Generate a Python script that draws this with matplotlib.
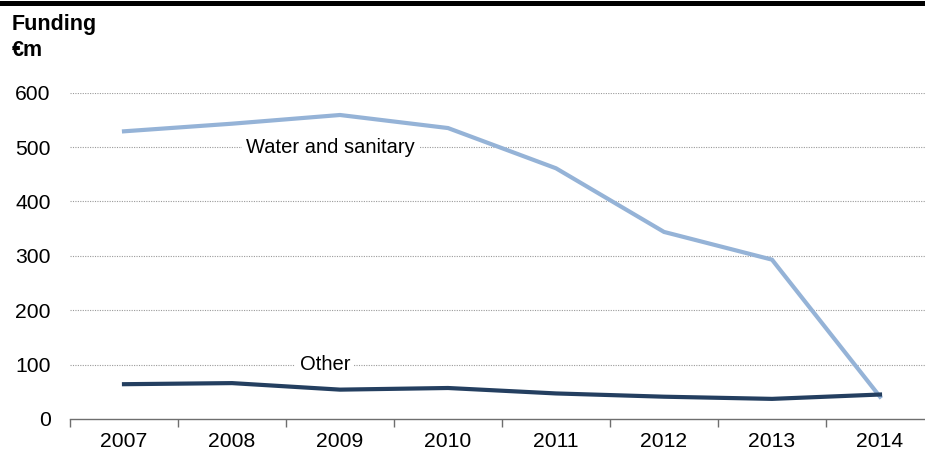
import matplotlib
matplotlib.use("Agg")
import matplotlib.pyplot as plt
from matplotlib.ticker import FixedLocator, NullFormatter
from matplotlib.lines import Line2D

plt.rcParams['font.family'] = ['Liberation Sans', 'DejaVu Sans']

years = ["2007", "2008", "2009", "2010", "2011", "2012", "2013", "2014"]
water_sanitary = [529, 543, 559, 535, 461, 344, 293, 41]
other = [64, 66, 54, 57, 47, 41, 37, 45]
y_ticks = [0, 100, 200, 300, 400, 500, 600]

WATER_COLOR = "#95B3D7"
OTHER_COLOR = "#243F60"
FS = 14.5
TICK_FS = 15.2
TITLE_FS = 15.5

fig = plt.figure(figsize=(9.25, 4.54), dpi=100)
ax = fig.add_axes([70 / 925, 1 - 419 / 454, 864 / 925, (419 - 92.7) / 454])

x = list(range(len(years)))
ax.plot(x, water_sanitary, color=WATER_COLOR, lw=3.0, solid_joinstyle="miter", zorder=3)
ax.plot(x, other, color=OTHER_COLOR, lw=3.0, solid_joinstyle="miter", zorder=4)

ax.set_xlim(-0.5, len(years) - 0.5)
ax.set_ylim(0, 600)

# dotted horizontal gridlines
ax.set_yticks(y_ticks)
for v in y_ticks[1:]:
    ax.axhline(v, color="#9a9a9a", lw=0.8, ls=(0, (1, 1.2)), zorder=1)
ax.tick_params(axis="y", length=0, pad=14, labelsize=TICK_FS, labelcolor="black")

# category ticks on boundaries, labels centred on each year
ax.xaxis.set_major_locator(FixedLocator([i - 0.5 for i in range(len(years) + 1)]))
ax.xaxis.set_major_formatter(NullFormatter())
ax.xaxis.set_minor_locator(FixedLocator(x))
ax.set_xticklabels(years, minor=True)
ax.tick_params(axis="x", which="major", length=6, width=1, color="#6e6e6e", direction="out")
ax.tick_params(axis="x", which="minor", length=0, pad=9.5, labelsize=TICK_FS)

for side in ("left", "right", "top"):
    ax.spines[side].set_visible(False)
ax.spines["bottom"].set_color("#6e6e6e")
ax.spines["bottom"].set_linewidth(1.0)
ax.spines["bottom"].set_clip_on(False)

# series labels sitting on the gridlines
bbox = dict(facecolor="white", edgecolor="none", pad=3)
ax.text(1.91, 500, "Water and sanitary", fontsize=FS, ha="center", va="center",
        bbox=bbox, zorder=2)
ax.text(1.86, 100, "Other", fontsize=FS, ha="center", va="center",
        bbox=bbox, zorder=2)

# axis title
fig.text(12 / 925, 1 - 30 / 454, "Funding", fontsize=TITLE_FS, fontweight="bold",
         ha="left", va="baseline")
fig.text(12 / 925, 1 - 56 / 454, "€m", fontsize=TITLE_FS, fontweight="bold",
         ha="left", va="baseline")

# top rule
fig.add_artist(Line2D([0, 1], [1 - 2.5 / 454, 1 - 2.5 / 454], color="black",
                      lw=3.6, transform=fig.transFigure))

fig.savefig("out.png", dpi=100)
